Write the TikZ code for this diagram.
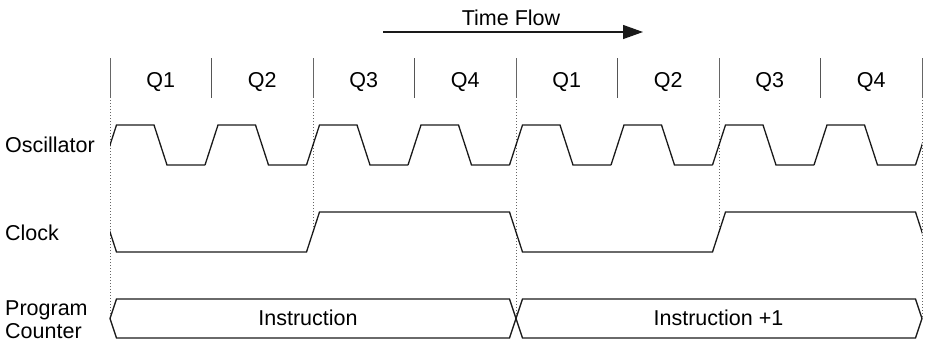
\documentclass[tikz,border=0pt]{standalone}
\usepackage{fontspec}
\setmainfont{Liberation Sans}
\usetikzlibrary{arrows.meta}
\definecolor{sepgray}{HTML}{555555}
\definecolor{dotgray}{HTML}{666666}
\definecolor{wave}{HTML}{1A1A1A}
\tikzset{
  lbl/.style={font=\fontsize{21.5}{24}\selectfont, text=black, inner sep=0pt, anchor=base},
  leftlbl/.style={lbl, anchor=base west, align=left},
  sepline/.style={draw=sepgray, line width=1pt},
  dotline/.style={draw=dotgray, line width=0.9pt, dash pattern=on 1.3pt off 1.7pt},
  wavestyle/.style={draw=wave, line width=1.3pt, line join=miter},
}
\begin{document}
\begin{tikzpicture}[x=1pt,y=-1pt]
\useasboundingbox (0,0) rectangle (926,341);
% Time flow
\node[lbl] (tf) at (511,25) {Time Flow};
\coordinate (tfL) at (383,32);
\coordinate (tfR) at (643,32);
\draw[wave, line width=1.3pt, -{Triangle[length=20pt,width=14pt]}] (tfL) -- (tfR);
% dotted boundaries
\foreach \i/\x/\yb in {0/110/318.5,1/313/228,2/516/318.5,3/719/228,4/922/318.5}{
  \coordinate (dt\i) at (\x,58);
  \coordinate (db\i) at (\x,\yb);
  \draw[dotline] (dt\i) -- (db\i);
  \draw[draw=dotgray, line width=0.8pt] (\x,58) -- (\x,98);
}
% solid separators
\foreach \i/\x in {0/211.5,1/414.5,2/617.5,3/820.5}{
  \coordinate (st\i) at (\x,58);
  \coordinate (sb\i) at (\x,98);
  \draw[sepline] (st\i) -- (sb\i);
}
% Q labels
\foreach \i/\x/\q in {1/160.75/Q1,2/262.25/Q2,3/363.75/Q3,4/465.25/Q4,5/566.75/Q1,6/668.25/Q2,7/769.75/Q3,8/871.25/Q4}{
  \node[lbl] (q\i) at (\x,87.5) {\q};
}
% row labels
\node[leftlbl] (osc) at (5,152) {Oscillator};
\node[leftlbl] (clk) at (5,240) {Clock};
\node[leftlbl] (pc1) at (5,315) {Program};
\node[leftlbl] (pc2) at (5,338) {Counter};
% oscillator
\begin{scope}
\clip (110,100) rectangle (922,180);
\draw[wavestyle]
  \foreach \k in {0,...,8}{
    ({110+101.5*\k-6.5},165) -- ({110+101.5*\k+6.5},125) -- ({110+101.5*\k+44},125) -- ({110+101.5*\k+57},165) -- ({110+101.5*\k+95},165)
  };
\end{scope}
% clock
\begin{scope}
\clip (110,195) rectangle (922,265);
\draw[wavestyle]
  (103.5,212) -- (116.5,252) -- (306.5,252) -- (319.5,212) -- (509.5,212) -- (522.5,252)
  -- (712.5,252) -- (725.5,212) -- (915.5,212) -- (928.5,252);
\end{scope}
% program counter
\draw[wavestyle] (110,318.5) -- (116.5,299) -- (509.5,299) -- (522.5,338) -- (915.5,338) -- (922,318.5)
  -- (915.5,299) -- (522.5,299) -- (509.5,338) -- (116.5,338) -- cycle;
\node[lbl] (ins1) at (308,325) {Instruction};
\node[lbl] (ins2) at (718.5,325) {Instruction +1};
\end{tikzpicture}
\end{document}
